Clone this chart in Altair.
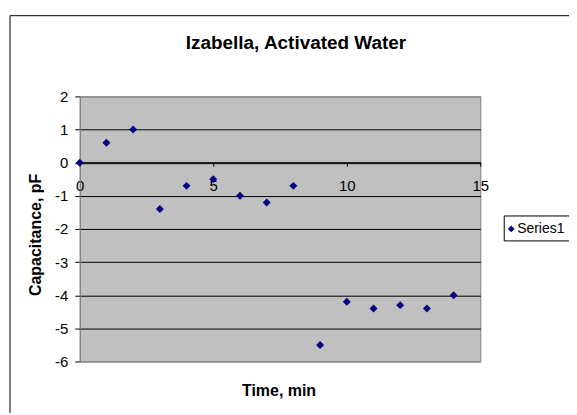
import altair as alt
import pandas as pd

# ---- data ----
time_min = [0, 1, 2, 3, 4, 5, 6, 7, 8, 9, 10, 11, 12, 13, 14]
capacitance = [0, 0.6, 1.0, -1.4, -0.7, -0.5, -1.0, -1.2, -0.7, -5.5, -4.2, -4.4, -4.3, -4.4, -4.0]
series_name = "Series1"
x_ticks = [0, 5, 10, 15]
y_ticks = [-6, -5, -4, -3, -2, -1, 0, 1, 2]
chart_title = "Izabella, Activated Water"
x_title = "Time, min"
y_title = "Capacitance, pF"

df = pd.DataFrame({"t": time_min, "c": capacitance})
one = alt.Data(values=[{}])

FONT = "Liberation Sans"
NAVY = "#000080"
W, H = 402, 266

border = alt.Chart(one).mark_rect(fillOpacity=0, stroke="black", strokeWidth=1).encode(
    x=alt.value(-70), x2=alt.value(700), y=alt.value(-81), y2=alt.value(500)
)

points = alt.Chart(df).mark_point(shape="diamond", filled=True, size=64, opacity=1, color=NAVY).encode(
    x=alt.X("t:Q", scale=alt.Scale(domain=[0, 15], nice=False, zero=False),
            axis=alt.Axis(values=x_ticks, title=None, orient="bottom", offset=-200,
                          grid=False, domainColor="black", tickColor="black", tickSize=4,
                          labelFont=FONT, labelFontSize=15, labelColor="black",
                          labelPadding=12, labelFlush=False,
                          labelExpr="datum.value + ''")),
    y=alt.Y("c:Q", scale=alt.Scale(domain=[-6, 2], nice=False, zero=False),
            axis=alt.Axis(values=y_ticks, title=None, grid=True,
                          gridColor={"condition": {"test": "datum.value === 2 || datum.value === -6", "value": "#808080"}, "value": "black"},
                          gridOpacity=1, domainColor="#808080", tickColor="black", tickSize=5,
                          labelFont=FONT, labelFontSize=15, labelColor="black",
                          labelPadding=7, labelExpr="datum.value + ''")),
)

# legend (box, symbol, label)
leg_box = alt.Chart(one).mark_rect(fill="white", stroke="black", strokeWidth=1).encode(
    x=alt.value(426), x2=alt.value(600), y=alt.value(120), y2=alt.value(145))
leg_sym = alt.Chart(one).mark_point(shape="diamond", filled=True, size=45, opacity=1, color=NAVY).encode(
    x=alt.value(433), y=alt.value(133))
leg_txt = alt.Chart(one).mark_text(text=series_name, font=FONT, fontSize=14, align="left",
                                   baseline="middle", color="black").encode(
    x=alt.value(439), y=alt.value(133))

title = alt.Chart(one).mark_text(text=chart_title, font=FONT, fontSize=19, fontWeight="bold",
                                 align="center", baseline="middle", color="black").encode(
    x=alt.value(217), y=alt.value(-54))
ytitle = alt.Chart(one).mark_text(text=y_title, font=FONT, fontSize=16, fontWeight="bold",
                                  align="center", baseline="middle", angle=270, color="black").encode(
    x=alt.value(-44), y=alt.value(139))
xtitle = alt.Chart(one).mark_text(text=x_title, font=FONT, fontSize=16, fontWeight="bold",
                                  align="center", baseline="middle", color="black").encode(
    x=alt.value(200), y=alt.value(296))

chart = alt.layer(border, points, leg_box, leg_sym, leg_txt, title, ytitle, xtitle).properties(
    width=W, height=H,
    autosize=alt.AutoSizeParams(type="none"),
    padding={"left": 72, "top": 88, "right": 89, "bottom": 51},
    background="white",
).configure_view(fill="#C0C0C0", stroke="#808080", strokeWidth=1)

chart.save("out.html", embed_options={"renderer": "svg", "actions": False})
